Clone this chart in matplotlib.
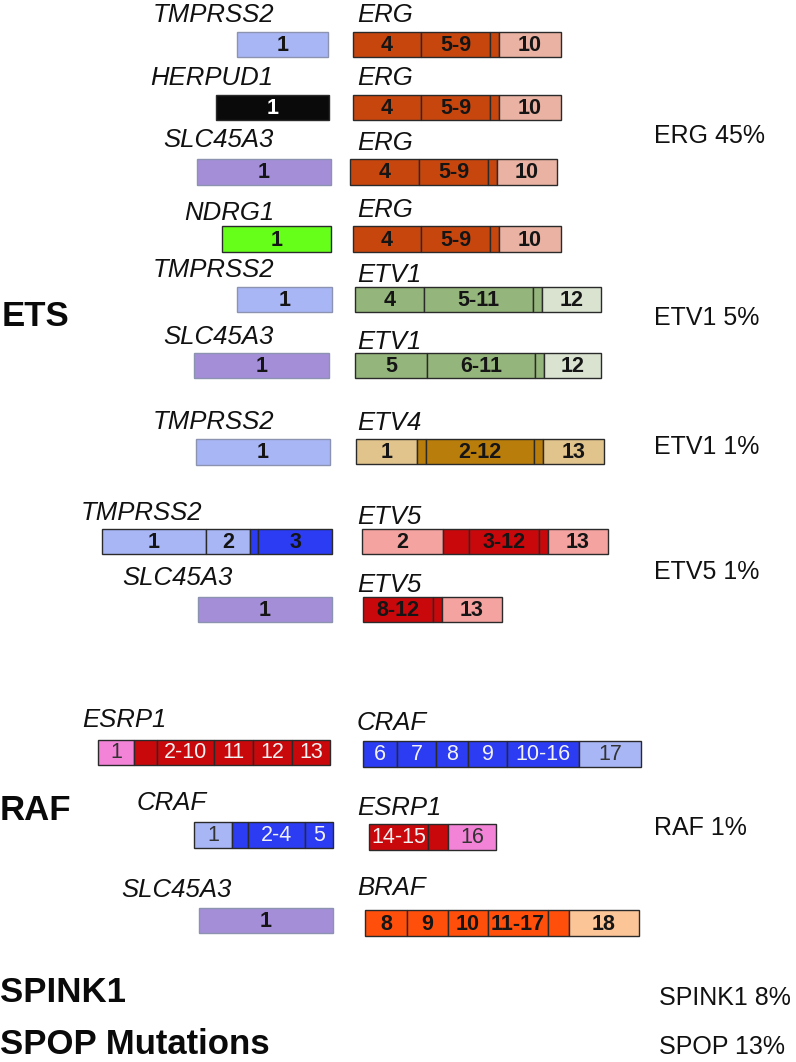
import matplotlib
matplotlib.use("Agg")
import matplotlib.pyplot as plt

plt.rcParams['font.family'] = ['Liberation Sans', 'DejaVu Sans']

# ---------------- data ----------------
class_labels = ["ETS", "RAF", "SPINK1", "SPOP Mutations"]
freq_labels = ["ERG 45%", "ETV1 5%", "ETV1 1%", "ETV5 1%", "RAF 1%", "SPINK1 8%", "SPOP 13%"]

five_prime_genes = ["TMPRSS2", "HERPUD1", "SLC45A3", "NDRG1", "TMPRSS2", "SLC45A3",
                    "TMPRSS2", "TMPRSS2", "SLC45A3", "ESRP1", "CRAF", "SLC45A3"]
three_prime_genes = ["ERG", "ERG", "ERG", "ERG", "ETV1", "ETV1",
                     "ETV4", "ETV5", "ETV5", "CRAF", "ESRP1", "BRAF"]

five_exon_labels = [["1"], ["1"], ["1"], ["1"], ["1"], ["1"], ["1"],
                    ["1", "2", "", "3"], ["1"],
                    ["1", "", "2-10", "11", "12", "13"],
                    ["1", "", "2-4", "5"], ["1"]]
five_exon_widths = [[91], [113], [134], [109], [95], [135], [134],
                    [104, 44, 8, 74], [134],
                    [36, 23, 57, 39, 39, 38],
                    [38, 16, 57, 28], [134]]

three_exon_labels = [["4", "5-9", "", "10"], ["4", "5-9", "", "10"],
                     ["4", "5-9", "", "10"], ["4", "5-9", "", "10"],
                     ["4", "5-11", "", "12"], ["5", "6-11", "", "12"],
                     ["1", "", "2-12", "", "13"],
                     ["2", "", "3-12", "", "13"],
                     ["8-12", "", "13"],
                     ["6", "7", "8", "9", "10-16", "17"],
                     ["14-15", "", "16"],
                     ["8", "9", "10", "11-17", "", "18"]]
three_exon_widths = [[68, 69, 9, 62], [68, 69, 9, 62],
                     [69, 69, 9, 60], [68, 69, 9, 62],
                     [69, 109, 9, 59], [72, 108, 9, 57],
                     [61, 9, 108, 9, 61],
                     [81, 26, 70, 9, 60],
                     [70, 9, 60],
                     [34, 39, 32, 39, 72, 62],
                     [59, 20, 48],
                     [42, 41, 40, 60, 21, 70]]

# ---------------- styles / layout ----------------
C = dict(tmp="#a8b6f6", blk="#0a0a0a", slc="#a48ed8", ndrg="#66ff1a",
         erg="#c7460e", ergl="#e9b2a2", etv1="#94b57c", etv1l="#d9e3d0",
         etv4l="#e0c48c", etv4="#b97d0c", etv5l="#f4a3a0", red="#c9080c",
         blue="#2b3cf2", pink="#f283d6", braf="#ff4f0a", brafl="#fcc597")

five_colors = [["tmp"], ["blk"], ["slc"], ["ndrg"], ["tmp"], ["slc"], ["tmp"],
               ["tmp", "tmp", "blue", "blue"], ["slc"],
               ["pink", "red", "red", "red", "red", "red"],
               ["tmp", "blue", "blue", "blue"], ["slc"]]
three_colors = [["erg", "erg", "erg", "ergl"]] * 4 + \
               [["etv1", "etv1", "etv1", "etv1l"]] * 2 + \
               [["etv4l", "etv4", "etv4", "etv4", "etv4l"],
                ["etv5l", "red", "red", "red", "etv5l"],
                ["red", "red", "etv5l"],
                ["blue", "blue", "blue", "blue", "blue", "tmp"],
                ["red", "red", "pink"],
                ["braf", "braf", "braf", "braf", "braf", "brafl"]]

five_start = [237, 216, 197, 222, 237, 194, 196, 102, 198, 98, 194, 199]
three_start = [353, 353, 350, 353, 355, 355, 356, 362, 363, 363, 369, 365]
five_y = [44.5, 107.5, 172, 239, 299.5, 365.5, 452, 541.5, 609.5, 752.5, 835, 920.5]
three_y = [44.5, 107.5, 172, 239, 299.5, 365.5, 451.5, 541.5, 609.5, 754, 837, 923]
bar_h = 25.5
five_label_right = [274, 273, 274, 274, 274, 274, 274, 202, 233, 167, 207, 232]
five_label_y = [15, 78, 140, 213, 270, 337, 422, 513, 578, 720, 803, 890]
three_label_x = 357
three_label_y = [15, 78, 143, 210, 275, 342, 423, 517, 585, 723, 808, 888]

raf_rows = {9, 10}
dark_text_keys = {"pink", "tmp", "etv5l", "ergl"}

class_pos = [(2, 317), (0, 810), (0, 993), (0, 1045)]
freq_pos = [(654, 136), (654, 318), (654, 447), (654, 572), (654, 828), (659, 998), (659, 1047)]

# ---------------- drawing ----------------
fig = plt.figure(figsize=(7.96, 10.62), dpi=100)
ax = fig.add_axes([0, 0, 1, 1])
ax.set_xlim(0, 796)
ax.set_ylim(1062, 0)
ax.axis('off')


def draw_box(y, start, widths, labels, colors, row, single_left):
    lefts = []
    x = start
    for w in widths:
        lefts.append(x)
        x += w
    facecols = [C[c] for c in colors]
    if single_left and colors[0] in ("tmp", "slc"):
        ec, lw = "#8c93b0", 1.0
    else:
        ec, lw = "#2a2a2a", 1.0
    ax.barh([y] * len(widths), widths, left=lefts, height=bar_h,
            color=facecols, edgecolor=ec, linewidth=lw, zorder=2)
    for l, w, lab, ck in zip(lefts, widths, labels, colors):
        if not lab:
            continue
        if row in raf_rows:
            col = "#333333" if ck in dark_text_keys else "#f2f2f2"
            ax.text(l + w / 2, y + 0.5, lab, ha='center', va='center',
                    fontsize=15.5, color=col, zorder=3)
        else:
            col = "white" if ck == "blk" else "#151515"
            ax.text(l + w / 2, y + 1, lab, ha='center', va='center',
                    fontsize=15.5, fontweight='bold', color=col, zorder=3)


for i in range(len(five_prime_genes)):
    draw_box(five_y[i], five_start[i], five_exon_widths[i], five_exon_labels[i],
             five_colors[i], i, len(five_exon_widths[i]) == 1)
    draw_box(three_y[i], three_start[i], three_exon_widths[i], three_exon_labels[i],
             three_colors[i], i, False)
    ax.text(five_label_right[i], five_label_y[i], five_prime_genes[i], ha='right',
            va='center', fontsize=18.5, style='italic', color='#111111')
    ax.text(three_label_x, three_label_y[i], three_prime_genes[i], ha='left',
            va='center', fontsize=18.5, style='italic', color='#111111')

for lab, (x, y) in zip(class_labels, class_pos):
    ax.text(x, y, lab, ha='left', va='center', fontsize=25, fontweight='bold',
            color='#0a0a0a')

for lab, (x, y) in zip(freq_labels, freq_pos):
    ax.text(x, y, lab, ha='left', va='center', fontsize=18, color='#111111')

fig.savefig("out.png", dpi=100)
